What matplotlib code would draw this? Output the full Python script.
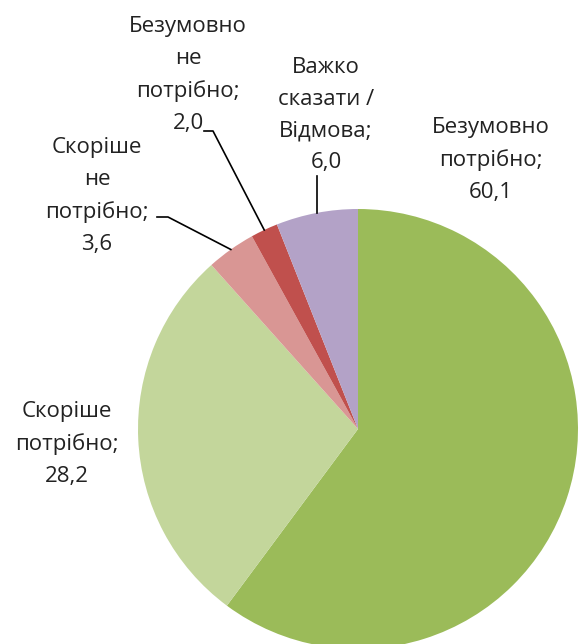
import numpy as np
import matplotlib
matplotlib.use("Agg")
import matplotlib.pyplot as plt

categories = ["Безумовно\nпотрібно", "Скоріше\nпотрібно", "Скоріше\nне\nпотрібно",
              "Безумовно\nне\nпотрібно", "Важко\nсказати /\nВідмова"]
values = [60.1, 28.2, 3.6, 2.0, 6.0]
value_labels = ["60,1", "28,2", "3,6", "2,0", "6,0"]
colors = ["#9BBB59", "#C3D69B", "#D99694", "#C0504D", "#B3A2C7"]

W, H = 579, 644
fig = plt.figure(figsize=(W / 100, H / 100), dpi=100)
ax = fig.add_axes([0, 0, 1, 1])

cx, cy_px, r = 358, 429, 220
cy = H - cy_px
ax.pie(values, colors=colors, startangle=90, counterclock=False,
       center=(cx, cy), radius=r, frame=True,
       wedgeprops=dict(linewidth=0))
ax.set_xlim(0, W)
ax.set_ylim(0, H)
ax.set_aspect("equal")
ax.axis("off")

font = dict(family="Open Sans", fontsize=16, color="#222222", ha="center",
            va="center", linespacing=1.66)

# label block centers in pixel coords (top-down)
label_pos = [(491, 160), (67, 444), (97, 196), (188, 75), (326, 115)]
for cat, vl, (lx, ly) in zip(categories, value_labels, label_pos):
    ax.text(lx, H - ly, f"{cat};\n{vl}", **font)

total = sum(values)
cum = np.cumsum([0] + values[:-1])
def edge_point(i):
    frac = (cum[i] + values[i] / 2) / total
    th = 2 * np.pi * frac
    return cx + r * np.sin(th), cy + r * np.cos(th)

# 3.6
ex, ey = edge_point(2)
ax.plot([157, 168, ex], [H - 217, H - 217, ey], color="black", lw=1.2)
# 2.0
ex, ey = edge_point(3)
ax.plot([204, 213, ex], [H - 131, H - 131, ey], color="black", lw=1.2)
# 6.0
ex, ey = edge_point(4)
ax.plot([ex, ex], [H - 176, ey], color="black", lw=1.2)

fig.savefig("out.png", dpi=100)
